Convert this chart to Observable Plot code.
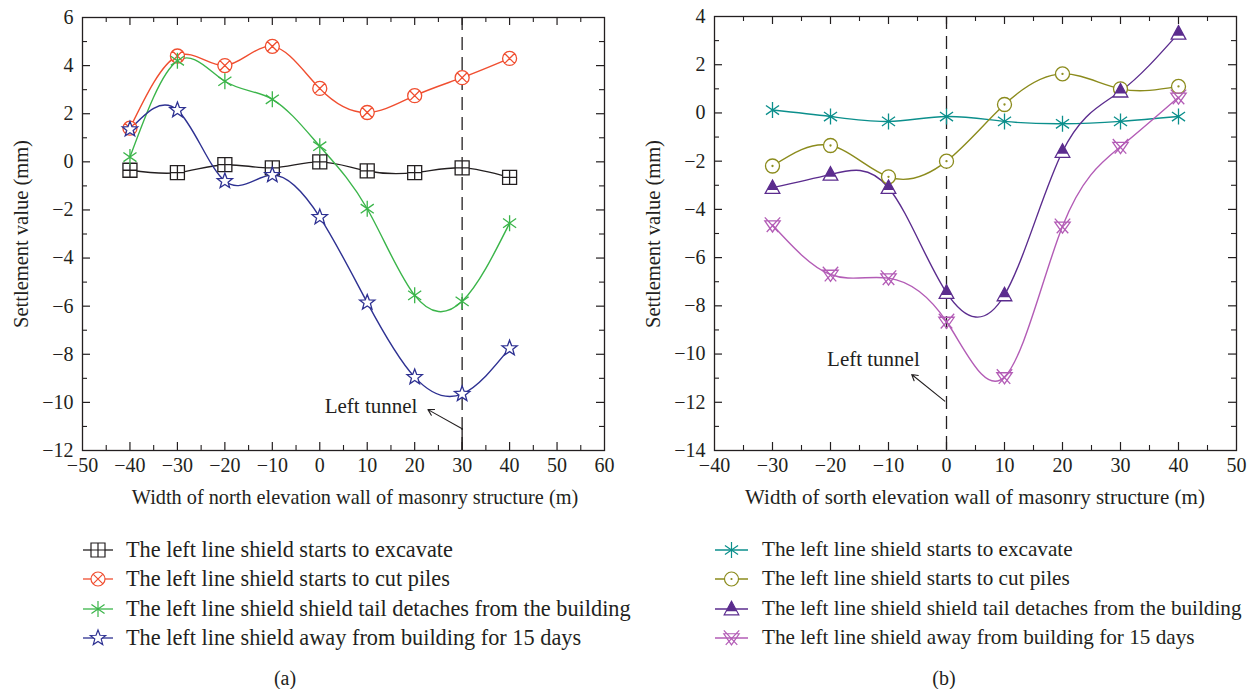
<!DOCTYPE html>
<html>
<head>
<meta charset="utf-8">
<script src="https://cdn.jsdelivr.net/npm/d3@7"></script>
<script src="https://cdn.jsdelivr.net/npm/@observablehq/plot@0.6"></script>
<style>
  html, body { margin: 0; padding: 0; background: #fff; }
  body { width: 1257px; height: 689px; position: relative; overflow: hidden;
         font-family: "Liberation Serif", "DejaVu Serif", serif; color: #231f20; }
  .panel { position: absolute; top: 0; }
  .legend { position: absolute; }
  .legend .row { position: absolute; white-space: nowrap; height: 24px; }
  .legend svg { position: absolute; top: 0; }
  .legend span { position: absolute; top: -1px; }
  .cap { position: absolute; font-size: 20px; transform: translate(-50%, -50%); }
  .xlab { position: absolute; white-space: nowrap; transform: translate(-50%, -50%); }
  .ylab { position: absolute; font-size: 20.5px; white-space: nowrap; transform: translate(-50%, -50%) rotate(-90deg); }
</style>
</head>
<body>
<div id="left" class="panel" style="left:0px"></div>
<div id="right" class="panel" style="left:632px"></div>
<div id="legL" class="legend" style="font-size:22.3px"></div>
<div id="legR" class="legend" style="font-size:21.2px"></div>
<div id="labels"></div>
<div class="cap" style="left:285px; top:678px">(a)</div>
<div class="cap" style="left:944px; top:678px">(b)</div>
<script>
// ---------- data ----------
const xLeft = [-40, -30, -20, -10, 0, 10, 20, 30, 40];
const leftExcavate = [-0.35, -0.45, -0.12, -0.25, 0.0, -0.38, -0.45, -0.25, -0.65];
const leftCutPiles = [1.4, 4.4, 4.0, 4.8, 3.05, 2.05, 2.75, 3.5, 4.3];
const leftTail = [0.2, 4.2, 3.35, 2.6, 0.65, -1.95, -5.55, -5.8, -2.55];
const left15days = [1.35, 2.15, -0.8, -0.55, -2.3, -5.85, -8.95, -9.65, -7.75];

const xRight = [-30, -20, -10, 0, 10, 20, 30, 40];
const rightExcavate = [0.12, -0.15, -0.35, -0.15, -0.35, -0.45, -0.35, -0.15];
const rightCutPiles = [-2.2, -1.35, -2.65, -2.0, 0.35, 1.62, 1.0, 1.1];
const rightTail = [-3.1, -2.55, -3.1, -7.45, -7.55, -1.6, 0.9, 3.3];
const right15days = [-4.65, -6.7, -6.85, -8.65, -10.95, -4.7, -1.4, 0.65];

const seriesNames = [
  "The left line shield starts to excavate",
  "The left line shield starts to cut piles",
  "The left line shield shield tail detaches from the building",
  "The left line shield away from building for 15 days"
];
const leftXLabel = "Width of north elevation wall of masonry structure (m)";
const rightXLabel = "Width of sorth elevation wall of masonry structure (m)";
const yLabel = "Settlement value (mm)";
const leftXTicks = [-50, -40, -30, -20, -10, 0, 10, 20, 30, 40, 50, 60];
const leftYTicks = [-12, -10, -8, -6, -4, -2, 0, 2, 4, 6];
const rightXTicks = [-40, -30, -20, -10, 0, 10, 20, 30, 40, 50];
const rightYTicks = [-14, -12, -10, -8, -6, -4, -2, 0, 2, 4];
const leftTunnelX = [30];
const rightTunnelX = [0];
const annotText = "Left tunnel";
const leftAnnot = {text: [10.8, -10.15], tail: [30, -11.1], tip: [22.8, -10.3]};
const rightAnnot = {text: [-12.6, -10.2], tail: [-0.3, -11.95], tip: [-6.0, -10.85]};

// ---------- symbols ----------
const R = r => Math.sqrt(r / Math.PI);
const sqPlus = {draw(c, s) { const r = R(s);
  c.moveTo(-r, -r); c.lineTo(r, -r); c.lineTo(r, r); c.lineTo(-r, r); c.closePath();
  c.moveTo(-r, 0); c.lineTo(r, 0); c.moveTo(0, -r); c.lineTo(0, r); }};
const circX = {draw(c, s) { const r = R(s); const k = r * 0.707;
  c.moveTo(r, 0); c.arc(0, 0, r, 0, 2 * Math.PI); c.closePath();
  c.moveTo(-k, -k); c.lineTo(k, k); c.moveTo(k, -k); c.lineTo(-k, k); }};
const aster = {draw(c, s) { const r = R(s);
  for (const a of [90, 35, 145]) { const t = a * Math.PI / 180;
    c.moveTo(-r * Math.cos(t), -r * Math.sin(t)); c.lineTo(r * Math.cos(t), r * Math.sin(t)); } }};
const star5 = {draw(c, s) { const r = R(s) * 1.15; const ri = r * 0.42;
  for (let i = 0; i < 10; i++) { const rr = i % 2 ? ri : r; const t = -Math.PI / 2 + i * Math.PI / 5;
    const x = rr * Math.cos(t), y = rr * Math.sin(t); i ? c.lineTo(x, y) : c.moveTo(x, y); }
  c.closePath(); }};
const circDot = {draw(c, s) { const r = R(s);
  c.moveTo(r, 0); c.arc(0, 0, r, 0, 2 * Math.PI); c.closePath();
  c.moveTo(0.5, 0); c.arc(0, 0, 0.5, 0, 2 * Math.PI); c.closePath(); }};
const triOut = {draw(c, s) { const r = R(s) * 1.1;
  c.moveTo(0, -r); c.lineTo(r * 0.95, r * 0.75); c.lineTo(-r * 0.95, r * 0.75); c.closePath(); }};
const triTop = {draw(c, s) { const r = R(s) * 1.1; const yb = r * 0.3; const f = (yb + r) / (1.75 * r);
  c.moveTo(0, -r); c.lineTo(r * 0.95 * f, yb); c.lineTo(-r * 0.95 * f, yb); c.closePath(); }};
const triDownX = {draw(c, s) { const r = R(s) * 1.1;
  c.moveTo(-r, -r * 0.55); c.lineTo(r, -r * 0.55); c.lineTo(0, r * 0.9); c.closePath();
  c.moveTo(-r, -r); c.lineTo(r * 0.75, r * 0.9); c.moveTo(r, -r); c.lineTo(-r * 0.75, r * 0.9); }};

const leftSeries = [
  {name: seriesNames[0], y: leftExcavate, color: "#231f20", syms: [{symbol: sqPlus, fill: "white"}]},
  {name: seriesNames[1], y: leftCutPiles, color: "#f04e30", syms: [{symbol: circX, fill: "white"}]},
  {name: seriesNames[2], y: leftTail, color: "#3bb54a", syms: [{symbol: aster, fill: "none", r: 8}]},
  {name: seriesNames[3], y: left15days, color: "#2e3192", syms: [{symbol: star5, fill: "white"}]}
];
const rightSeries = [
  {name: seriesNames[0], y: rightExcavate, color: "#0b8f8c", syms: [{symbol: aster, fill: "none", r: 8}]},
  {name: seriesNames[1], y: rightCutPiles, color: "#8b8b1c", syms: [{symbol: circDot, fill: "white"}]},
  {name: seriesNames[2], y: rightTail, color: "#5b2c8e", syms: [{symbol: triOut, fill: "white"}, {symbol: triTop, fill: "#5b2c8e", stroke: "none"}]},
  {name: seriesNames[3], y: right15days, color: "#b35cb6", syms: [{symbol: triDownX, fill: "none"}]}
];

function minorTicks(major, step) {
  const out = [];
  for (let i = 0; i < major.length - 1; i++) out.push(major[i] + step);
  return out;
}
const fmt = d => d < 0 ? "\u2212" + Math.abs(d) : String(d);

function panel({xs, series, xTicks, yTicks, tunnel, annot, solidTail, width, height, margins}) {
  const [mt, mr, mb, ml] = margins;
  const pw = width - ml - mr, ph = height - mt - mb;
  const xStep = (xTicks[1] - xTicks[0]) / 2, yStep = (yTicks[1] - yTicks[0]) / 2;
  const xMinor = minorTicks(xTicks, xStep), yMinor = minorTicks(yTicks, yStep);
  const marks = [];
  marks.push(Plot.ruleX(tunnel, {stroke: "#231f20", strokeWidth: 1.3, strokeDasharray: "13,7"}));
  if (solidTail) marks.push(Plot.ruleX(tunnel, {y1: annot.tail[1], y2: yTicks[0], stroke: "#231f20", strokeWidth: 1.3}));
  for (const s of series) {
    const data = xs.map((x, i) => ({x, y: s.y[i]}));
    marks.push(Plot.line(data, {x: "x", y: "y", curve: "natural", stroke: s.color, strokeWidth: 1.4}));
  }
  for (const s of series) {
    const data = xs.map((x, i) => ({x, y: s.y[i]}));
    for (const sy of s.syms) {
      marks.push(Plot.dot(data, {x: "x", y: "y", symbol: sy.symbol, r: sy.r ?? 7,
        fill: sy.fill, stroke: sy.stroke ?? s.color, strokeWidth: 1.3}));
    }
  }
  marks.push(Plot.text([annot], {x: d => d.text[0], y: d => d.text[1], text: () => annotText,
    fontSize: 21, fill: "#231f20", fontFamily: "Liberation Serif"}));
  marks.push(Plot.arrow([annot], {x1: d => d.tail[0], y1: d => d.tail[1], x2: d => d.tip[0], y2: d => d.tip[1],
    stroke: "#231f20", strokeWidth: 1.1, headLength: 9}));
  marks.push(Plot.frame({stroke: "#231f20", strokeWidth: 1.3}));
  const tk = (arr, len, sw) => [
    Plot.ruleX(arr, {insetTop: ph - len, stroke: "#231f20", strokeWidth: sw}),
    Plot.ruleX(arr, {insetBottom: ph - len, stroke: "#231f20", strokeWidth: sw})
  ];
  const tky = (arr, len, sw) => [
    Plot.ruleY(arr, {insetRight: pw - len, stroke: "#231f20", strokeWidth: sw}),
    Plot.ruleY(arr, {insetLeft: pw - len, stroke: "#231f20", strokeWidth: sw})
  ];
  marks.push(...tk(xTicks.slice(1, -1), 8, 1.2), ...tk(xMinor, 5, 1.1));
  marks.push(...tky(yTicks.slice(1, -1), 8, 1.2), ...tky(yMinor, 5, 1.1));
  marks.push(Plot.axisX(xTicks, {tickSize: 0, tickPadding: 7, fontSize: 20, label: null, tickFormat: fmt}));
  marks.push(Plot.axisY(yTicks, {tickSize: 0, tickPadding: 9, fontSize: 20, label: null, tickFormat: fmt}));
  return Plot.plot({
    width, height, marginTop: mt, marginRight: mr, marginBottom: mb, marginLeft: ml,
    style: {fontFamily: "Liberation Serif", fontSize: "20px", color: "#231f20", background: "white", overflow: "visible"},
    x: {domain: [xTicks[0], xTicks[xTicks.length - 1]]},
    y: {domain: [yTicks[0], yTicks[yTicks.length - 1]]},
    marks
  });
}

const leftPlot = panel({xs: xLeft, series: leftSeries, xTicks: leftXTicks, yTicks: leftYTicks,
  tunnel: leftTunnelX, annot: leftAnnot, solidTail: true,
  width: 628, height: 515, margins: [17, 24, 65, 82]});
const rightPlot = panel({xs: xRight, series: rightSeries, xTicks: rightXTicks, yTicks: rightYTicks,
  tunnel: rightTunnelX, annot: rightAnnot, solidTail: false,
  width: 625, height: 515, margins: [16, 21, 65, 82]});
document.getElementById("left").appendChild(leftPlot);
document.getElementById("right").appendChild(rightPlot);

// ---------- axis titles ----------
const labelsEl = document.getElementById("labels");
function addLabel(cls, text, x, y, size) {
  const d = document.createElement("div");
  d.className = cls; d.textContent = text;
  d.style.left = x + "px"; d.style.top = y + "px";
  if (size) d.style.fontSize = size + "px";
  labelsEl.appendChild(d);
}
addLabel("xlab", leftXLabel, 355, 497, 20.3);
addLabel("xlab", rightXLabel, 975, 497, 21);
addLabel("ylab", yLabel, 21, 234);
addLabel("ylab", yLabel, 653, 234);

// ---------- legends ----------
function symPath(sym, r) { const p = d3.path(); sym.draw(p, Math.PI * r * r); return p.toString(); }
function legend(el, series, x0, lineW, textX) {
  const top0 = 538, dy = 29.4;
  series.forEach((s, i) => {
    const row = document.createElement("div");
    row.className = "row";
    row.style.left = x0 + "px";
    row.style.top = (top0 + i * dy) + "px";
    const svg = d3.create("svg").attr("width", lineW + 4).attr("height", 24);
    svg.append("line").attr("x1", 0).attr("x2", lineW).attr("y1", 12).attr("y2", 12)
      .attr("stroke", s.color).attr("stroke-width", 1.3);
    for (const sy of s.syms) {
      svg.append("path").attr("transform", `translate(${lineW / 2},12)`)
        .attr("d", symPath(sy.symbol, sy.r ?? 7))
        .attr("fill", sy.fill).attr("stroke", sy.stroke ?? s.color).attr("stroke-width", 1.2);
    }
    row.appendChild(svg.node());
    const t = document.createElement("span");
    t.textContent = s.name;
    t.style.left = (textX - x0) + "px";
    row.appendChild(t);
    el.appendChild(row);
  });
}
legend(document.getElementById("legL"), leftSeries, 83, 30, 126);
legend(document.getElementById("legR"), rightSeries, 715, 33, 762);
</script>
</body>
</html>
